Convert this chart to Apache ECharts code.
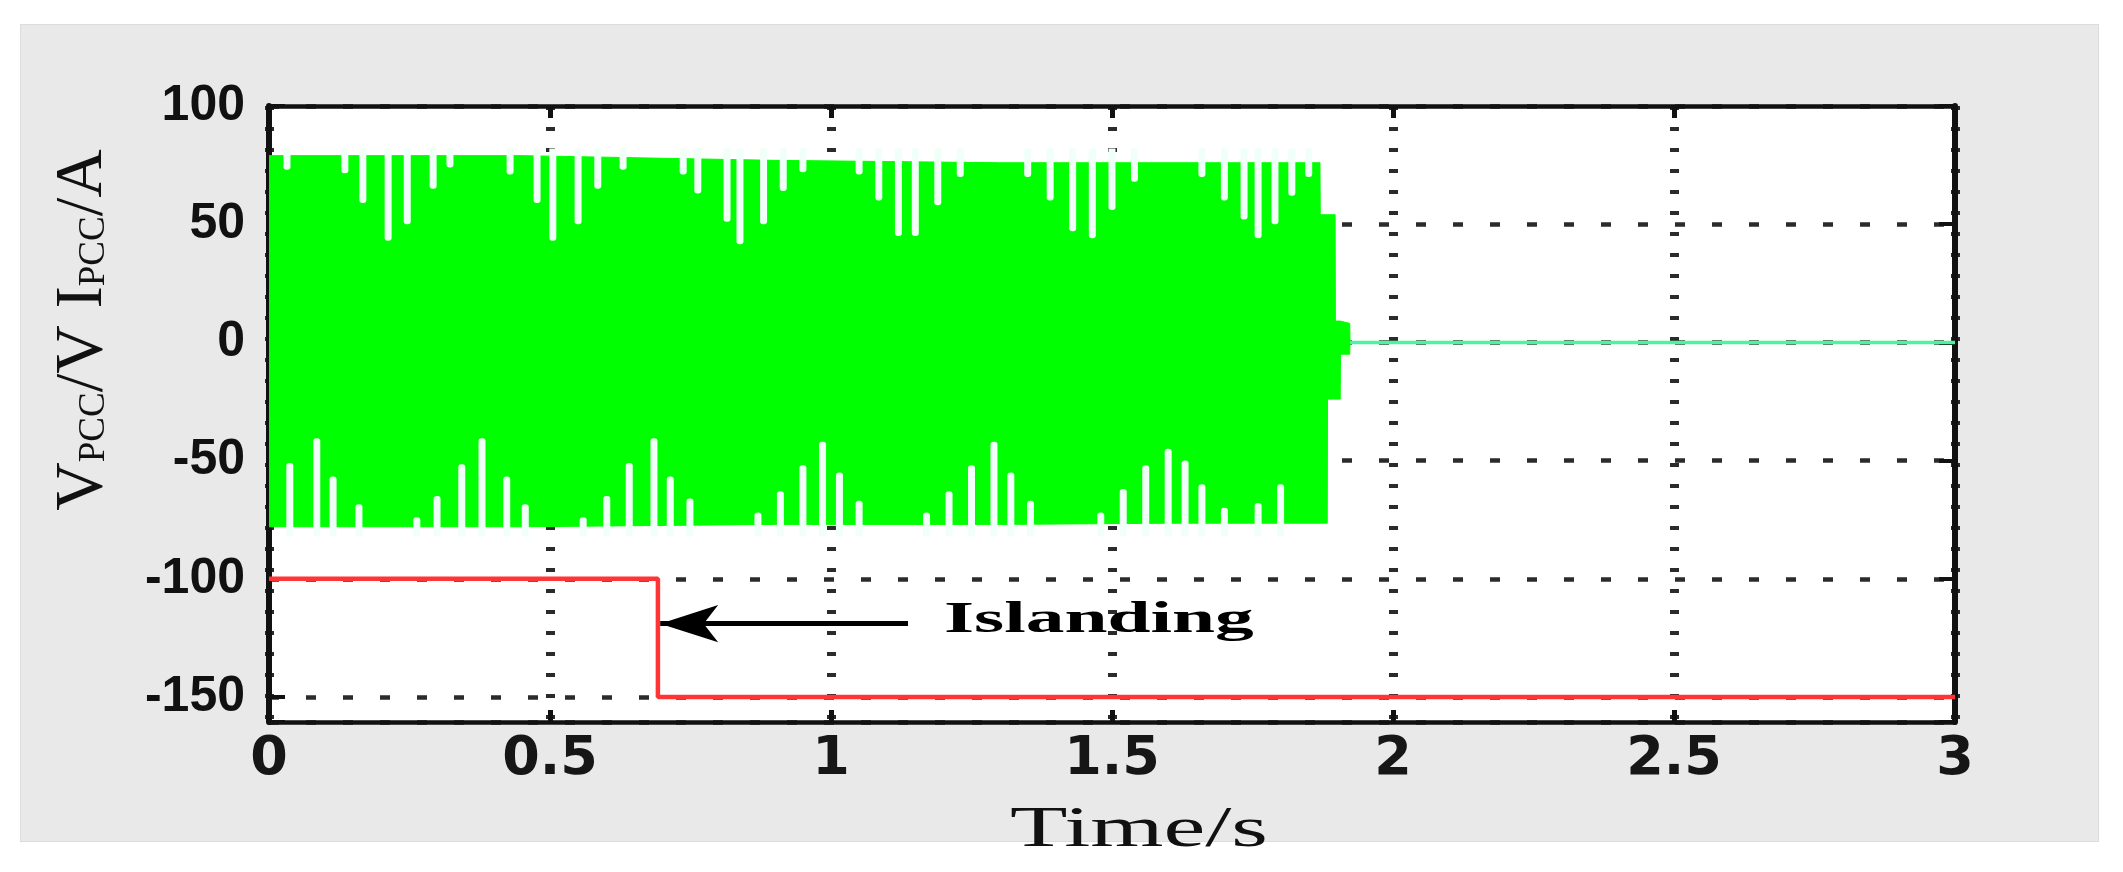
<!DOCTYPE html>
<html>
<head>
<meta charset="utf-8">
<script src="https://cdn.jsdelivr.net/npm/echarts@6/dist/echarts.min.js"></script>
<style>
html,body{margin:0;padding:0;background:#ffffff;width:2123px;height:872px;overflow:hidden;}
#panel{position:absolute;left:20px;top:24px;width:2079px;height:818px;background:#e9e9e9;border:1px solid #dcdcdc;box-sizing:border-box;}
#chart{position:absolute;left:0;top:0;width:2123px;height:872px;}
</style>
</head>
<body>
<div id="panel"></div>
<div id="chart"></div>
<script>
// ---------- axes ----------
const xRange = [0, 3];
const xStep = 0.5;
const yRange = [-160.6, 100];
const yStep = 50;
const yTickValues = [-150, -100, -50, 0, 50, 100];
const xName = 'Time/s';

// ---------- green band (envelope of the dense V/I waveform) ----------
const envT     = [0,   0.45, 0.9, 1.3, 1.6,  1.870, 1.8705, 1.883, 1.8835, 1.897, 1.8975, 1.906, 1.9065, 1.923, 1.9235];
const envUpper = [79,  79,   77,  76,  76,   76,    54,     54,    54,     54,    9,      9,     9,      8,     0];
const envLower = [-78, -78,  -77, -77, -76.5, -76.5, -76.5, -76.5, -24,    -24,   -24,    -24,   -5,     -5,    0];

// white notches in the top edge of the band (time, lowest value)
const topNotchT = [0.032, 0.135, 0.167, 0.212, 0.246, 0.292, 0.322, 0.429, 0.477, 0.505, 0.550, 0.585, 0.630,
                   0.737, 0.763, 0.815, 0.838, 0.880, 0.915, 0.950, 1.050, 1.085, 1.120, 1.150, 1.190, 1.230,
                   1.350, 1.390, 1.430, 1.465, 1.500, 1.540, 1.660, 1.700, 1.735, 1.760, 1.790, 1.820, 1.850];
const topNotchV = [73, 71.5, 59, 43, 50, 65, 74, 71, 59, 43, 50, 65, 73,
                   71, 63, 51, 41.5, 50, 64, 72, 71, 60, 45, 45, 58, 70,
                   70, 60, 47, 44, 56, 68, 70, 60, 52, 44, 50, 62, 70];
// white notches in the bottom edge of the band (time, highest value)
const botNotchT = [0.037, 0.085, 0.114, 0.160, 0.263, 0.299, 0.343, 0.379, 0.423, 0.456, 0.559, 0.601, 0.641,
                   0.685, 0.714, 0.749, 0.870, 0.910, 0.950, 0.985, 1.015, 1.050, 1.170, 1.210, 1.250, 1.290,
                   1.320, 1.355, 1.480, 1.520, 1.560, 1.600, 1.630, 1.660, 1.700, 1.760, 1.800];
const botNotchV = [-51, -40.6, -56.7, -68.5, -74, -65, -51.6, -40.6, -56.7, -68.5, -74, -65, -51,
                   -40.6, -56.7, -66, -72, -63, -52, -42, -55, -67, -72, -63, -52, -42,
                   -55, -67, -72, -62, -52, -45, -50, -60, -70, -68, -60];

// zero line after the inverter stops
const tailT = [1.9235, 3];
const tailV = [0, 0];

// islanding detection signal (red)
const islandT = [0, 0.692, 0.692, 3];
const islandV = [-100, -100, -150, -150];

// annotation
const annotationText = 'Islanding';
const arrowFrom = [1.137, -119];
const arrowTo = [0.696, -119];

// ---------- build ----------
const pairs = (xs, ys) => xs.map((x, i) => [x, ys[i]]);
const bandRows = envT.map((t, i) => [t, envUpper[i], envLower[i]]);

const dotColor = '#2b2b2b';
const axisColor = '#111';

function bandItem(params, api) {
  if (params.dataIndex !== 0) return null;
  const n = params.dataInsideLength;
  const upper = [], lower = [];
  for (let i = 0; i < n; i++) {
    const t = api.value(0, i);
    upper.push(api.coord([t, api.value(1, i)]));
    lower.push(api.coord([t, api.value(2, i)]));
  }
  return {
    type: 'polygon',
    shape: { points: upper.concat(lower.reverse()) },
    style: { fill: '#00ff00', stroke: '#00ff00', lineWidth: 1 }
  };
}

function notchItem(params, api) {
  const t = api.value(0), d = api.value(1);
  const edge = d > 0 ? 82 : -82;
  const p1 = api.coord([t, d]);
  const p2 = api.coord([t, edge]);
  const w = 7;
  const top = Math.min(p1[1], p2[1]);
  const h = Math.abs(p1[1] - p2[1]);
  return {
    type: 'rect',
    shape: { x: p1[0] - w / 2, y: top, width: w, height: h, r: d > 0 ? [0, 0, 3, 3] : [3, 3, 0, 0] },
    style: { fill: '#f0fff7' }
  };
}

const option = {
  animation: false,
  backgroundColor: 'transparent',
  grid: { left: 269, top: 106, right: 168, bottom: 150, show: true, backgroundColor: '#ffffff', borderWidth: 0, containLabel: false, outerBoundsMode: 'none' },
  xAxis: [
    {
      type: 'value', position: 'bottom', min: xRange[0], max: xRange[1], interval: xStep,
      axisLine: { show: true, onZero: false, lineStyle: { color: axisColor, width: 4.5 } },
      axisTick: { show: true, inside: true, length: 12, lineStyle: { color: axisColor, width: 5 } },
      axisLabel: { show: true, margin: 11, color: '#161616', fontFamily: 'DejaVu Sans', fontWeight: 'bold', fontSize: 54,
                   formatter: v => String(v) },
      splitLine: { show: true, lineStyle: { color: dotColor, width: 9, type: [4, 17], cap: 'butt' } }
    },
    {
      type: 'value', position: 'top', min: xRange[0], max: xRange[1], interval: xStep,
      axisLine: { show: true, onZero: false, lineStyle: { color: axisColor, width: 4.5 } },
      axisTick: { show: true, inside: true, length: 12, lineStyle: { color: axisColor, width: 5 } },
      axisLabel: { show: false }, splitLine: { show: false }
    }
  ],
  yAxis: [
    {
      type: 'value', position: 'left', min: yRange[0], max: yRange[1], minInterval: yStep, maxInterval: yStep,
      axisLine: { show: true, onZero: false, lineStyle: { color: axisColor, width: 6 } },
      axisTick: { show: true, inside: true, length: 16, lineStyle: { color: axisColor, width: 4 } },
      axisLabel: { show: true, margin: 24, color: '#111', fontFamily: 'Liberation Sans', fontWeight: 'bold', fontSize: 50,
                   formatter: v => (yTickValues.indexOf(Math.round(v * 1000) / 1000) >= 0 ? String(v) : '') },
      splitLine: { show: true, lineStyle: { color: dotColor, width: 4.5, type: [10, 27], cap: 'butt' } },
      name: '{m|V}{s|PCC}{m|/V I}{s|PCC}{m|/A}',
      nameLocation: 'middle', nameRotate: 90, nameGap: 152,
      nameTextStyle: {
        color: '#111', fontFamily: 'Liberation Serif', fontSize: 67, padding: [0, 0, 0, 168],
        rich: {
          m: { color: '#111', fontFamily: 'Liberation Serif', fontSize: 67, lineHeight: 72, verticalAlign: 'bottom' },
          s: { color: '#111', fontFamily: 'Liberation Serif', fontSize: 37, lineHeight: 38, verticalAlign: 'bottom', padding: [0, 0, 4, 0] }
        }
      }
    },
    {
      type: 'value', position: 'right', min: yRange[0], max: yRange[1], minInterval: yStep, maxInterval: yStep,
      axisLine: { show: true, onZero: false, lineStyle: { color: axisColor, width: 6 } },
      axisTick: { show: true, inside: true, length: 16, lineStyle: { color: axisColor, width: 4 } },
      axisLabel: { show: false }, splitLine: { show: false }
    }
  ],
  series: [
    {
      name: 'band', type: 'custom', xAxisIndex: 0, yAxisIndex: 0, clip: true, silent: true, z: 2,
      encode: { x: 0, y: [1, 2] }, renderItem: bandItem, data: bandRows
    },
    {
      name: 'topNotches', type: 'custom', xAxisIndex: 0, yAxisIndex: 0, clip: true, silent: true, z: 3,
      encode: { x: 0, y: 1 }, renderItem: notchItem, data: pairs(topNotchT, topNotchV)
    },
    {
      name: 'bottomNotches', type: 'custom', xAxisIndex: 0, yAxisIndex: 0, clip: true, silent: true, z: 3,
      encode: { x: 0, y: 1 }, renderItem: notchItem, data: pairs(botNotchT, botNotchV)
    },
    {
      name: 'tail', type: 'line', xAxisIndex: 0, yAxisIndex: 0, data: pairs(tailT, tailV), symbol: 'none',
      lineStyle: { color: '#4cf59c', width: 3.5 }, silent: true, z: 4
    },
    {
      name: 'islanding', type: 'line', xAxisIndex: 0, yAxisIndex: 0, data: pairs(islandT, islandV), symbol: 'none',
      lineStyle: { color: '#ff3535', width: 4.5 }, silent: true, z: 5,
      markLine: {
        silent: true, animation: false,
        symbol: ['none', 'arrow'], symbolSize: [28, 58],
        lineStyle: { color: '#000', width: 5, type: 'solid' },
        label: { show: false },
        emphasis: { disabled: true },
        data: [[{ coord: arrowFrom }, { coord: arrowTo }]]
      }
    }
  ]
};

const chart = echarts.init(document.getElementById('chart'), null, { renderer: 'canvas', width: 2123, height: 872 });
chart.setOption(option);

const pFrom = chart.convertToPixel({ xAxisIndex: 0, yAxisIndex: 0 }, arrowFrom);
const xMid = chart.convertToPixel({ xAxisIndex: 0 }, (xRange[0] + xRange[1]) / 2);
const yBottom = chart.convertToPixel({ yAxisIndex: 0 }, yRange[0]);

chart.setOption({
  graphic: [
    {
      type: 'text', x: pFrom[0] + 36, y: pFrom[1] - 3, scaleX: 1.72, z: 100,
      style: { text: annotationText, font: 'bold 45px "Liberation Serif"', fill: '#000',
               textAlign: 'left', align: 'left', textVerticalAlign: 'middle', verticalAlign: 'middle' }
    },
    {
      type: 'text', x: xMid + 27, y: yBottom + 109, scaleX: 1.65, z: 100,
      style: { text: xName, font: '57px "Liberation Serif"', fill: '#111',
               textAlign: 'center', align: 'center', textVerticalAlign: 'middle', verticalAlign: 'middle' }
    }
  ]
});
</script>
</body>
</html>
